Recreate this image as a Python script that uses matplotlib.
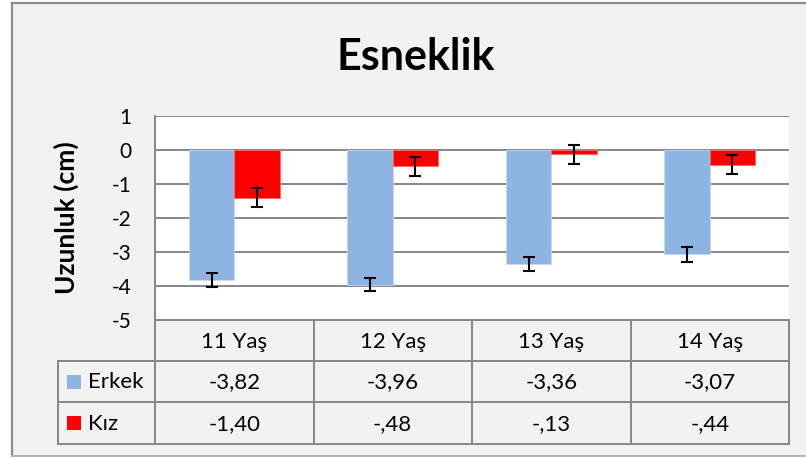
import matplotlib
matplotlib.use("Agg")
import matplotlib.pyplot as plt
from matplotlib.patches import Rectangle
from matplotlib.lines import Line2D

categories = ["11 Yaş", "12 Yaş", "13 Yaş", "14 Yaş"]
series_names = ["Erkek", "Kız"]
erkek = [-3.82, -3.96, -3.36, -3.07]
kiz = [-1.40, -0.48, -0.13, -0.44]
erkek_err = [0.20, 0.20, 0.21, 0.21]
kiz_err = [0.27, 0.27, 0.28, 0.28]
yticks = [1, 0, -1, -2, -3, -4, -5]
title = "Esneklik"
ylabel = "Uzunluk (cm)"

FONT = "Lato"
plt.rcParams["font.family"] = [FONT, "DejaVu Sans"]

W, H = 806, 457
fig = plt.figure(figsize=(W / 100, H / 100), dpi=100, facecolor="white")

BLUE = "#8EB4E3"
RED = "#FF0000"
GRID = "#878787"
BG = "#F2F2F2"

# overlay axes in pixel coordinates
ov = fig.add_axes([0, 0, 1, 1], zorder=0)
ov.set_xlim(0, W)
ov.set_ylim(H, 0)
ov.axis("off")
ov.add_patch(Rectangle((12, 3), 840, 453, facecolor=BG, edgecolor="none", clip_on=False))
ov.add_line(Line2D([12, 12], [3, 456], color="#8C8C8C", lw=1.6))
ov.add_line(Line2D([12, 806], [3, 3], color="#8C8C8C", lw=1.6))
ov.add_line(Line2D([12, 806], [456, 456], color="#B4B4B4", lw=1.4))

# plot area
L, R, T, B = 155, 789, 116, 320
ax = fig.add_axes([L / W, 1 - B / H, (R - L) / W, (B - T) / H], zorder=1)
ax.set_facecolor("white")
n = len(categories)
ax.set_xlim(0, n)
ax.set_ylim(min(yticks), max(yticks))
bw = 1 / 3.5
xs = [i + 0.5 for i in range(n)]
ax.bar([x - bw / 2 for x in xs], erkek, width=bw, color=BLUE, zorder=2,
       edgecolor="#C6D9F1", linewidth=0.6)
ax.bar([x + bw / 2 for x in xs], kiz, width=bw, color=RED, zorder=2,
       edgecolor="#FF6666", linewidth=0.6)
ax.errorbar([x - bw / 2 for x in xs], erkek, yerr=erkek_err, fmt="none",
            ecolor="black", elinewidth=1.5, capsize=4.5, capthick=1.5, zorder=3)
ax.errorbar([x + bw / 2 for x in xs], kiz, yerr=kiz_err, fmt="none",
            ecolor="black", elinewidth=1.5, capsize=4.5, capthick=1.5, zorder=3)
for yv in yticks:
    ax.axhline(yv, color=GRID, lw=1.4, zorder=1)
ax.set_yticks(yticks)
ax.set_yticklabels([str(v) for v in yticks], fontsize=15, family=[FONT, "DejaVu Sans"])
ax.tick_params(axis="y", length=0, pad=17)
ax.set_xticks([])
for s in ["top", "right", "bottom"]:
    ax.spines[s].set_visible(False)
ax.spines["left"].set_color(GRID)
ax.spines["left"].set_linewidth(1.4)

# title and ylabel
ov.text(416, 57, title, ha="center", va="center", fontsize=31, fontweight="bold")
ov.text(66, 218, ylabel, ha="center", va="center", rotation=90, fontsize=19,
        fontweight="bold")

# table
rows_y = [320, 361, 402, 444]
col_w = (R - L) / n
colx = [L + col_w * i for i in range(n + 1)]
tl = dict(color=GRID, lw=1.4)
ov.add_line(Line2D([L, R], [rows_y[0]] * 2, **tl))
for yy in rows_y[1:]:
    ov.add_line(Line2D([58, R], [yy] * 2, **tl))
for xx in colx:
    ov.add_line(Line2D([xx, xx], [rows_y[0], rows_y[3]], **tl))
ov.add_line(Line2D([58, 58], [rows_y[1], rows_y[3]], **tl))


def fmt(v):
    s = f"{v:.2f}".replace(".", ",")
    if s.startswith("-0,"):
        s = "-" + s[2:]
    elif s.startswith("0,"):
        s = s[1:]
    return s


fs = 16
for i, c in enumerate(categories):
    cx = (colx[i] + colx[i + 1]) / 2
    ov.text(cx, (rows_y[0] + rows_y[1]) / 2 + 1, c, ha="center", va="center", fontsize=fs)
for r, (name, vals, col) in enumerate(zip(series_names, [erkek, kiz], [BLUE, RED])):
    cy = (rows_y[r + 1] + rows_y[r + 2]) / 2
    ov.add_patch(Rectangle((67, cy - 7), 14, 14, facecolor=col, edgecolor="none"))
    ov.text(88, cy + 1, name, ha="left", va="center", fontsize=fs)
    for i, v in enumerate(vals):
        cx = (colx[i] + colx[i + 1]) / 2
        ov.text(cx, cy + 1, fmt(v), ha="center", va="center", fontsize=fs)

fig.savefig("out.png", dpi=100, facecolor="white")
